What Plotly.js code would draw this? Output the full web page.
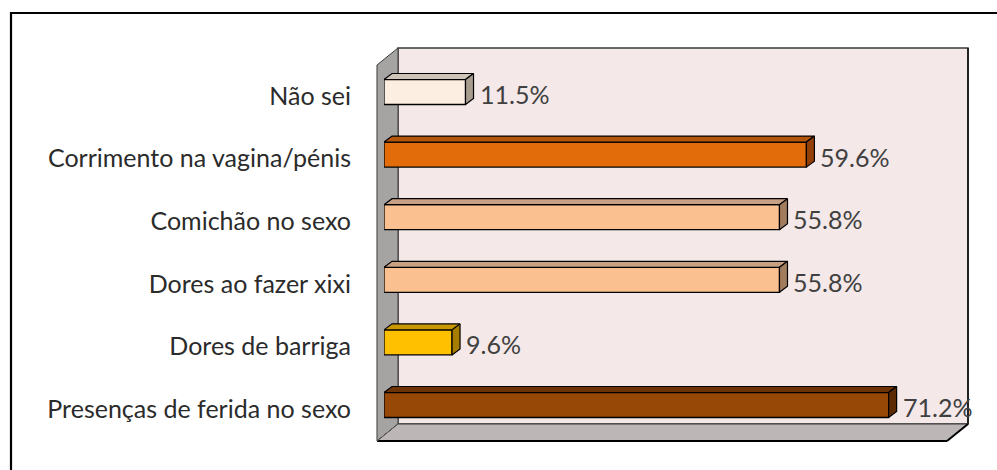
<!DOCTYPE html>
<html>
<head>
<meta charset="utf-8">
<script src="https://cdn.plot.ly/plotly-3.0.1.min.js"></script>
<style>html,body{margin:0;padding:0;background:#fff;}#chart{width:997px;height:470px;}</style>
</head>
<body>
<div id="chart"></div>
<script>
// ---- data ----
const categories = ["Presenças de ferida no sexo", "Dores de barriga", "Dores ao fazer xixi", "Comichão no sexo", "Corrimento na vagina/pénis", "Não sei"];
const values = [71.2, 9.6, 55.8, 55.8, 59.6, 11.5];
const valueLabels = ["71.2%", "9.6%", "55.8%", "55.8%", "59.6%", "11.5%"];
const frontColors = ["#974706", "#FFC000", "#FAC090", "#FAC090", "#E36C0A", "#FDEEE2"];
const topColors   = ["#6E3305", "#C99700", "#C8A083", "#C8A083", "#B3560A", "#CFC4B8"];
const sideColors  = ["#5C2A03", "#A67D00", "#A17C5E", "#A17C5E", "#943F06", "#A89C8F"];

// ---- layout constants ----
const W = 997, H = 470;
const X0PX = 384, X1PX = 951, XMAX = 80;
const YTOP = 60.7, YBOT = 436.3;
const PXX = (X1PX - X0PX) / XMAX;
const PXY = (YBOT - YTOP) / 6;
const DX = 8 / PXX, DY = 6 / PXY;
const HALF = 0.2;
const FONT = "Lato, 'Liberation Sans', sans-serif";

const idx = categories.map((c, i) => i);

const px = x => x / W;
const py = y => 1 - y / H;
function pathPx(pts) {
  return pts.map((p, k) => (k ? 'L' : 'M') + px(p[0]).toFixed(5) + ',' + py(p[1]).toFixed(5)).join(' ') + ' Z';
}

const traces = [];
traces.push({
  type: 'bar', orientation: 'h',
  x: values, y: idx, width: HALF * 2,
  marker: {color: frontColors, line: {color: '#000', width: 1.3}},
  hoverinfo: 'skip', showlegend: false
});
values.forEach((v, i) => {
  traces.push({
    type: 'scatter', mode: 'lines', fill: 'toself',
    x: [0, v, v + DX, DX, 0],
    y: [i + HALF, i + HALF, i + HALF + DY, i + HALF + DY, i + HALF],
    fillcolor: topColors[i], line: {color: '#000', width: 1.2},
    hoverinfo: 'skip', showlegend: false, cliponaxis: false
  });
  traces.push({
    type: 'scatter', mode: 'lines', fill: 'toself',
    x: [v, v + DX, v + DX, v, v],
    y: [i + HALF, i + HALF + DY, i - HALF + DY, i - HALF, i + HALF],
    fillcolor: sideColors[i], line: {color: '#000', width: 1.2},
    hoverinfo: 'skip', showlegend: false, cliponaxis: false
  });
});

const shapes = [
  // back wall
  {type: 'path', xref: 'paper', yref: 'paper', layer: 'below',
   path: pathPx([[398, 48], [968, 48], [968, 424], [398, 424]]),
   fillcolor: '#F4E8E8', line: {color: '#3a3a3a', width: 1.5}},
  // left wall
  {type: 'path', xref: 'paper', yref: 'paper', layer: 'below',
   path: pathPx([[377, 65], [398, 48], [398, 424], [377, 441]]),
   fillcolor: '#A6A3A3', line: {color: '#3a3a3a', width: 1}},
  // floor
  {type: 'path', xref: 'paper', yref: 'paper', layer: 'below',
   path: pathPx([[377, 441], [398, 424], [968, 424], [947, 441]]),
   fillcolor: '#BDB6B6', line: {color: '#3a3a3a', width: 1}},
  // floor front edge
  {type: 'line', xref: 'paper', yref: 'paper', layer: 'below',
   x0: px(377), y0: py(441), x1: px(947), y1: py(441), line: {color: '#000', width: 2}},
  {type: 'line', xref: 'paper', yref: 'paper', layer: 'below',
   x0: px(947), y0: py(441), x1: px(968), y1: py(424), line: {color: '#000', width: 2}},
  {type: 'line', xref: 'paper', yref: 'paper', layer: 'below',
   x0: px(968), y0: py(48), x1: px(968), y1: py(424), line: {color: '#222', width: 2}},
  {type: 'line', xref: 'paper', yref: 'paper', layer: 'below',
   x0: px(377), y0: py(441), x1: px(398), y1: py(424), line: {color: '#666', width: 1, dash: 'dot'}},
  // outer border
  {type: 'rect', xref: 'paper', yref: 'paper', layer: 'above',
   x0: px(11), y0: -0.05, x1: 1.05, y1: py(13), line: {color: '#000', width: 2.2}, fillcolor: 'rgba(0,0,0,0)'}
];

const annotations = values.map((v, i) => ({
  x: v, y: i, xref: 'x', yref: 'y', xanchor: 'left', yanchor: 'middle',
  xshift: 12, yshift: -2, showarrow: false, text: valueLabels[i],
  font: {family: FONT, size: 25, color: '#404040'}
}));

const layout = {
  width: W, height: H,
  margin: {l: 0, r: 0, t: 0, b: 0},
  paper_bgcolor: '#ffffff', plot_bgcolor: 'rgba(0,0,0,0)',
  showlegend: false,
  xaxis: {domain: [X0PX / W, X1PX / W], range: [0, XMAX], visible: false, fixedrange: true},
  yaxis: {domain: [1 - YBOT / H, 1 - YTOP / H], range: [-0.5, 5.5],
          tickmode: 'array', tickvals: idx, ticktext: categories,
          showgrid: false, zeroline: false, showline: false, ticks: '',
          ticklabelstandoff: 32, ticklabelshift: 4,
          tickfont: {family: FONT, size: 25, color: '#2b2b2b'}, fixedrange: true},
  shapes: shapes,
  annotations: annotations
};

Plotly.newPlot('chart', traces, layout, {displayModeBar: false, staticPlot: true});
</script>
</body>
</html>
